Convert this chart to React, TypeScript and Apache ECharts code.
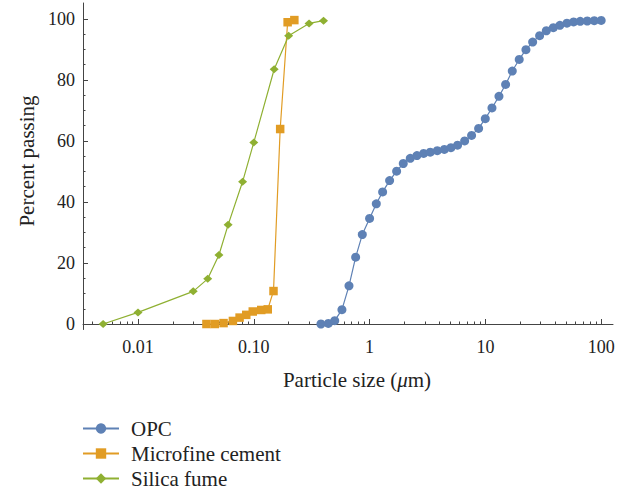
import React, { useEffect, useRef } from "react";
import * as echarts from "echarts";

const opcX = [0.38, 0.44, 0.5, 0.577, 0.664, 0.758, 0.865, 1.0, 1.143, 1.296, 1.489, 1.712, 1.954, 2.246, 2.565, 2.93, 3.34, 3.84, 4.42, 5.04, 5.75, 6.62, 7.6, 8.74, 9.98, 11.4, 13.1, 14.95, 17.07, 19.6, 22.4, 25.6, 29.4, 33.6, 38.6, 44.0, 50.6, 57.8, 65.9, 75.8, 87.1, 100];
const opcY = [0, 0.2, 1.1, 4.7, 12.5, 21.9, 29.3, 34.6, 39.4, 43.3, 47.0, 50.1, 52.6, 54.3, 55.2, 55.9, 56.3, 56.8, 57.2, 57.8, 58.6, 60.0, 61.8, 64.1, 67.3, 70.8, 74.6, 78.5, 82.9, 86.7, 89.9, 92.4, 94.5, 96.1, 97.1, 97.9, 98.6, 99.0, 99.2, 99.3, 99.4, 99.5];

const mcX = [0.039, 0.046, 0.0548, 0.066, 0.0754, 0.0861, 0.098, 0.116, 0.132, 0.148, 0.169, 0.196, 0.224];
const mcY = [0, 0, 0.3, 1.0, 2.1, 3.0, 4.1, 4.6, 4.8, 10.8, 63.9, 98.9, 99.6];

const sfX = [0.005, 0.01, 0.03, 0.04, 0.05, 0.06, 0.08, 0.1, 0.15, 0.2, 0.3, 0.4];
const sfY = [0, 3.8, 10.7, 14.8, 22.6, 32.5, 46.6, 59.5, 83.5, 94.5, 98.5, 99.4];

const xMajorTicks = [0.01, 0.1, 1, 10, 100];
const xTickLabels = ["0.01", "0.10", "1", "10", "100"];
const xMinorTicks = [
  0.004, 0.005, 0.006, 0.007, 0.008, 0.009,
  0.02, 0.03, 0.04, 0.05, 0.06, 0.07, 0.08, 0.09,
  0.2, 0.3, 0.4, 0.5, 0.6, 0.7, 0.8, 0.9,
  2, 3, 4, 5, 6, 7, 8, 9,
  20, 30, 40, 50, 60, 70, 80, 90,
];
const yMajorTicks = [0, 20, 40, 60, 80, 100];
const yMinorTicks = [5, 10, 15, 25, 30, 35, 45, 50, 55, 65, 70, 75, 85, 90, 95];

const names = ["OPC", "Microfine cement", "Silica fume"];
const colors = ["#5E81B5", "#E19C24", "#8FB032"];

const FONT = '"Liberation Serif", "DejaVu Serif", serif';

function pairs(xs: number[], ys: number[]) {
  return xs.map((x, i) => [x, ys[i]]);
}

export default function App() {
  const ref = useRef<HTMLDivElement>(null);
  useEffect(() => {
    if (!ref.current) return;
    const chart = echarts.init(ref.current, null, { renderer: "svg" });
    const xMin = 0.00335;
    const xMax = 126.5;
    const yMin = -1.8;
    const yMax = 105.2;
    const axisColor = "#444";
    const labelColor = "#222";
    chart.setOption({
      animation: false,
      grid: { left: 83, right: 13, top: 3, bottom: 160.5, containLabel: false },
      xAxis: [
        {
          type: "log",
          min: xMin,
          max: xMax,
          position: "bottom",
          axisLine: { show: true, lineStyle: { color: axisColor, width: 1 } },
          axisTick: { show: true, inside: true, length: 5, customValues: xMajorTicks, lineStyle: { color: axisColor } },
          axisLabel: {
            show: true,
            customValues: xMajorTicks,
            margin: 8,
            fontFamily: FONT,
            fontSize: 18,
            color: labelColor,
            formatter: (v: number) => {
              const e = Math.round(Math.log10(v));
              const idx = xMajorTicks.findIndex((t) => Math.round(Math.log10(t)) === e);
              return idx >= 0 ? xTickLabels[idx] : "";
            },
          },
          splitLine: { show: false },
          minorTick: { show: false },
        },
        {
          type: "log",
          min: xMin,
          max: xMax,
          position: "bottom",
          axisLine: { show: false },
          axisTick: { show: true, inside: true, length: 2.5, customValues: xMinorTicks, lineStyle: { color: axisColor } },
          axisLabel: { show: false },
          splitLine: { show: false },
        },
      ],
      yAxis: [
        {
          type: "value",
          min: yMin,
          max: yMax,
          position: "left",
          axisLine: { show: true, lineStyle: { color: axisColor, width: 1 } },
          axisTick: { show: true, inside: true, length: 5, customValues: yMajorTicks, lineStyle: { color: axisColor } },
          axisLabel: {
            show: true,
            customValues: yMajorTicks,
            margin: 8,
            fontFamily: FONT,
            fontSize: 18,
            color: labelColor,
          },
          splitLine: { show: false },
        },
        {
          type: "value",
          min: yMin,
          max: yMax,
          position: "left",
          axisLine: { show: false },
          axisTick: { show: true, inside: true, length: 2.5, customValues: yMinorTicks, lineStyle: { color: axisColor } },
          axisLabel: { show: false },
          splitLine: { show: false },
        },
      ],
      legend: {
        orient: "vertical",
        left: 82,
        top: 418,
        padding: 0,
        itemWidth: 36,
        itemHeight: 13,
        itemGap: 4,
        data: names,
        textStyle: { fontFamily: FONT, fontSize: 21, color: labelColor, lineHeight: 21, padding: [0, 0, 0, 7] },
      },
      graphic: [
        {
          type: "text",
          x: 357,
          y: 380,
          style: {
            text: "{a|Particle size (}{b|μ}{a|m)}",
            textAlign: "center",
            textVerticalAlign: "middle",
            rich: {
              a: { fontFamily: FONT, fontSize: 21, fill: labelColor },
              b: { fontFamily: FONT, fontSize: 21, fontStyle: "italic", fill: labelColor },
            },
          },
        },
        {
          type: "text",
          x: 27,
          y: 161,
          rotation: Math.PI / 2,
          style: {
            text: "Percent passing",
            font: `21px ${FONT}`,
            fill: labelColor,
            textAlign: "center",
            textVerticalAlign: "middle",
          },
        },
      ],
      series: [
        {
          name: names[0],
          type: "line",
          data: pairs(opcX, opcY),
          symbol: "circle",
          symbolSize: 9,
          lineStyle: { color: colors[0], width: 1.2 },
          itemStyle: { color: colors[0] },
        },
        {
          name: names[1],
          type: "line",
          data: pairs(mcX, mcY),
          symbol: "rect",
          symbolSize: 8.5,
          lineStyle: { color: colors[1], width: 1.2 },
          itemStyle: { color: colors[1] },
        },
        {
          name: names[2],
          type: "line",
          data: pairs(sfX, sfY),
          symbol: "diamond",
          symbolSize: [9, 8],
          lineStyle: { color: colors[2], width: 1.2 },
          itemStyle: { color: colors[2] },
        },
      ],
    });
    return () => chart.dispose();
  }, []);
  return <div ref={ref} style={{ position: "absolute", left: 0, top: 0, width: 626, height: 490 }} />;
}
